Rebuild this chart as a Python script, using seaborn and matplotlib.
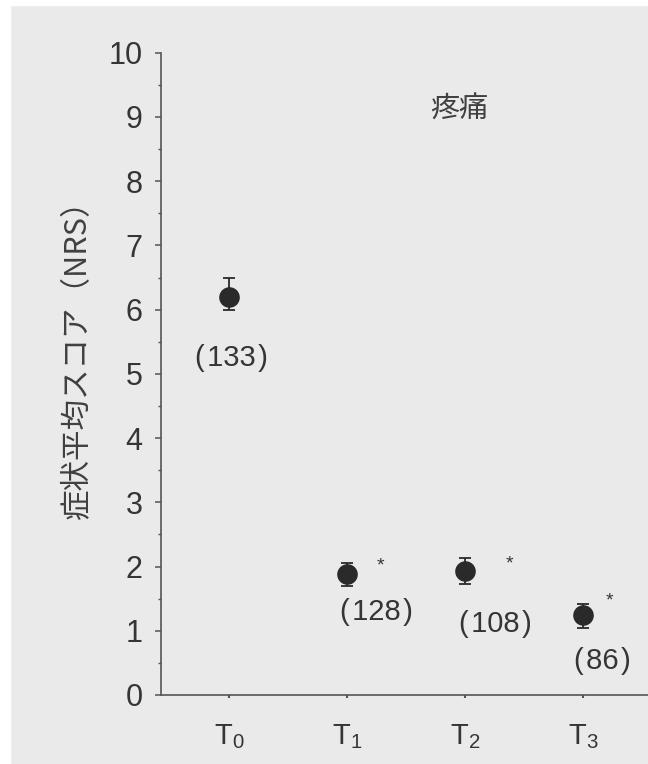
import matplotlib
matplotlib.use("Agg")
import matplotlib.pyplot as plt
import seaborn as sns
import pandas as pd
from matplotlib.patches import Rectangle
from matplotlib.ticker import MultipleLocator

# data
timepoints = ["T0", "T1", "T2", "T3"]
tick_text = [r"$\mathrm{T}_{0}$", r"$\mathrm{T}_{1}$", r"$\mathrm{T}_{2}$", r"$\mathrm{T}_{3}$"]
mean_score = [6.2, 1.88, 1.93, 1.25]
err_low = [0.2, 0.18, 0.2, 0.2]
err_high = [0.3, 0.18, 0.2, 0.17]
n_patients = [133, 128, 108, 86]
significant = [False, True, True, True]

title = "疼痛"
ylabel = "症状平均スコア（NRS）"

# annotation placement (points, relative to each point)
n_offsets = [(2, -44), (21, -27), (22, -38), (14, -33)]
star_offsets = [(0, 0), (24, 6), (32, 5), (19, 10)]

ink = "#2a2a2a"
txt = "#353535"
bg = "#eaeaea"

sns.set_theme(style="ticks")
plt.rcParams["font.family"] = ["Liberation Sans", "DejaVu Sans"]
plt.rcParams["mathtext.fontset"] = "custom"
plt.rcParams["mathtext.rm"] = "Liberation Sans"
plt.rcParams["mathtext.it"] = "Liberation Sans"

df = pd.DataFrame({"time": timepoints, "score": mean_score})

fig = plt.figure(figsize=(6.48, 7.64), dpi=100, facecolor=bg)
ax = fig.add_axes([161 / 648, 69 / 764, 487 / 648, 642.3 / 764])
ax.set_facecolor(bg)

sns.scatterplot(data=df, x="time", y="score", ax=ax, s=220, color=ink,
                edgecolor=ink, linewidth=0, zorder=3, legend=False)
ax.errorbar(df["time"], df["score"], yerr=[err_low, err_high], fmt="none",
            ecolor=ink, elinewidth=1.3, capsize=4.3, capthick=1.3, zorder=2)

for i, (t, m) in enumerate(zip(timepoints, mean_score)):
    ax.annotate("(" + "\u200a" + str(n_patients[i]) + "\u200a" + ")", (i, m),
                xytext=n_offsets[i], textcoords="offset points",
                ha="center", va="center", fontsize=21, color=txt)
    if significant[i]:
        ax.annotate("*", (i, m), xytext=star_offsets[i], textcoords="offset points",
                    ha="center", va="center", fontsize=14, color=txt)

ax.text(0.612, 0.911, title, transform=ax.transAxes, ha="center", va="center",
        fontsize=21, color="#404040", family=["Noto Sans CJK JP", "DejaVu Sans"])

ax.set_ylim(0, 10)
ax.set_xlim(-0.576, 3.55)
ax.yaxis.set_major_locator(MultipleLocator(1))
ax.yaxis.set_minor_locator(MultipleLocator(0.5))
ax.set_xticks(range(len(timepoints)))
ax.set_xticklabels(tick_text)

ax.set_xlabel("")
ax.set_ylabel(ylabel, fontsize=22, color="#404040",
              family=["Noto Sans CJK JP", "DejaVu Sans"])
ax.yaxis.set_label_coords(-0.14, 0.534)

sns.despine(ax=ax)
for side in ["left", "bottom"]:
    ax.spines[side].set_color("#555555")
    ax.spines[side].set_linewidth(1.2)

ax.tick_params(axis="y", which="major", length=4.3, width=1.1, color="#555555",
               labelsize=22, labelcolor=txt, pad=9)
ax.tick_params(axis="y", which="minor", length=2.5, width=1.0, color="#555555")
ax.tick_params(axis="x", which="major", length=2.5, width=1.5, color="#555555",
               labelsize=21, labelcolor=txt, pad=17)

# white scan border on the left and top
fig.patches.append(Rectangle((0, 0), 10 / 648, 1, transform=fig.transFigure,
                             color="white", zorder=0))
fig.patches.append(Rectangle((0, 1 - 5 / 764), 1, 5 / 764, transform=fig.transFigure,
                             color="white", zorder=0))

fig.savefig("out.png", dpi=100, facecolor=bg)
